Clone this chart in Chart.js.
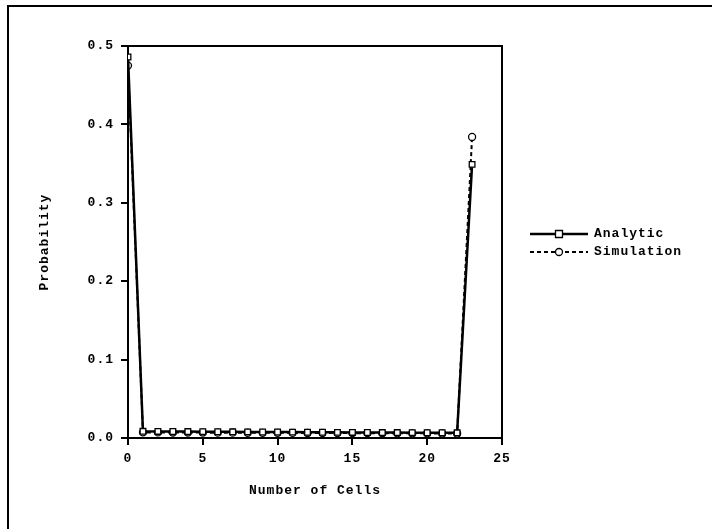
<!DOCTYPE html>
<html><head><meta charset="utf-8">
<script src="https://cdn.jsdelivr.net/npm/chart.js@4.4.0/dist/chart.umd.min.js"></script>
<style>html,body{margin:0;padding:0;background:#fff;}#wrap{width:712px;height:529px;}</style>
</head><body><div id="wrap"><canvas id="c" width="712" height="529"></canvas></div>
<script>
const cells = [0,1,2,3,4,5,6,7,8,9,10,11,12,13,14,15,16,17,18,19,20,21,22,23];
const analytic = [0.486,0.0085,0.0084,0.0083,0.0082,0.0081,0.0080,0.0079,0.0078,0.0077,0.0076,0.0075,0.0074,0.0073,0.0072,0.0071,0.0070,0.0069,0.0069,0.0068,0.0067,0.0067,0.0066,0.349];
const simulation = [0.475,0.0072,0.0071,0.0070,0.0070,0.0069,0.0068,0.0068,0.0067,0.0066,0.0066,0.0065,0.0064,0.0064,0.0063,0.0062,0.0062,0.0061,0.0060,0.0060,0.0059,0.0058,0.0057,0.384];
const seriesNames = ['Analytic','Simulation'];
const xTicks = [0,5,10,15,20,25];
const yTicks = [0,0.1,0.2,0.3,0.4,0.5];

const FONT = 'bold 13px "Liberation Mono", "Courier New", monospace';
const fontObj = {family:'"Liberation Mono", "Courier New", monospace', size:13, weight:'bold'};
const SPACING = '1px';

const spacingPlugin = {
  id:'spacing',
  beforeInit(chart){ chart.ctx.letterSpacing = SPACING; },
  beforeUpdate(chart){ chart.ctx.letterSpacing = SPACING; },
  beforeLayout(chart){ chart.ctx.letterSpacing = SPACING; },
  beforeDraw(chart){ chart.ctx.letterSpacing = SPACING; }
};

const framePlugin = {
  id:'frame',
  afterDraw(chart){
    const ctx = chart.ctx, a = chart.chartArea;
    ctx.save();
    ctx.strokeStyle='#000';
    ctx.lineWidth=2;
    ctx.strokeRect(8,6,800,600);
    ctx.beginPath();
    ctx.moveTo(a.left,a.top); ctx.lineTo(a.right,a.top); ctx.lineTo(a.right,a.bottom);
    ctx.stroke();
    const ds = chart.data.datasets;
    const rows = [234, 252];
    ds.forEach((d,i)=>{
      const y = rows[i];
      ctx.beginPath();
      ctx.lineWidth = d.borderWidth;
      ctx.setLineDash(d.borderDash || []);
      ctx.moveTo(530,y); ctx.lineTo(588,y);
      ctx.stroke();
      ctx.setLineDash([]);
      ctx.lineWidth=1.3;
      ctx.fillStyle='#fff';
      ctx.beginPath();
      if(d.pointStyle==='rect'){ ctx.rect(555.5,y-3.5,7,7);} else { ctx.arc(559,y,3.5,0,Math.PI*2);} 
      ctx.fill(); ctx.stroke();
      ctx.fillStyle='#000';
      ctx.font = FONT;
      ctx.letterSpacing = SPACING;
      ctx.textBaseline='middle';
      ctx.textAlign='left';
      ctx.fillText(d.label, 594, y);
    });
    ctx.restore();
  }
};

new Chart(document.getElementById('c'),{
  type:'line',
  data:{
    datasets:[
      {label:seriesNames[0], data:cells.map((x,i)=>({x, y:analytic[i]})), borderColor:'#000', borderWidth:2.5, pointStyle:'rect', pointRadius:4, pointBackgroundColor:'#fff', pointBorderColor:'#000', pointBorderWidth:1.3, tension:0},
      {label:seriesNames[1], data:cells.map((x,i)=>({x, y:simulation[i]})), borderColor:'#000', borderWidth:2, borderDash:[4,3], pointStyle:'circle', pointRadius:3.5, pointBackgroundColor:'#fff', pointBorderColor:'#000', pointBorderWidth:1.3, tension:0}
    ]
  },
  options:{
    responsive:false, animation:false, devicePixelRatio:1,
    layout:{padding:{left:0, top:46, right:210, bottom:0}},
    plugins:{legend:{display:false}, tooltip:{enabled:false}},
    scales:{
      x:{type:'linear', min:0, max:25,
        afterBuildTicks(s){ s.ticks = xTicks.map(v=>({value:v})); },
        afterFit(s){ s.height = 91; },
        border:{color:'#000', width:2},
        grid:{drawOnChartArea:false, drawTicks:true, tickLength:7, color:'#000', lineWidth:2},
        ticks:{color:'#000', font:fontObj, padding:6, maxRotation:0, callback:v=>String(v)},
        title:{display:true, text:'Number of Cells', color:'#000', font:fontObj, padding:{top:0,bottom:30}}
      },
      y:{type:'linear', min:0, max:0.5,
        afterBuildTicks(s){ s.ticks = yTicks.map(v=>({value:v})); },
        afterFit(s){ s.width = 128; },
        border:{color:'#000', width:2},
        grid:{drawOnChartArea:false, drawTicks:true, tickLength:7, color:'#000', lineWidth:2},
        ticks:{color:'#000', font:fontObj, padding:7, callback:v=>Number(v).toFixed(1)},
        title:{display:true, text:'Probability', color:'#000', font:fontObj, padding:{top:37,bottom:0}}
      }
    }
  },
  plugins:[spacingPlugin, framePlugin]
});
</script></body></html>
